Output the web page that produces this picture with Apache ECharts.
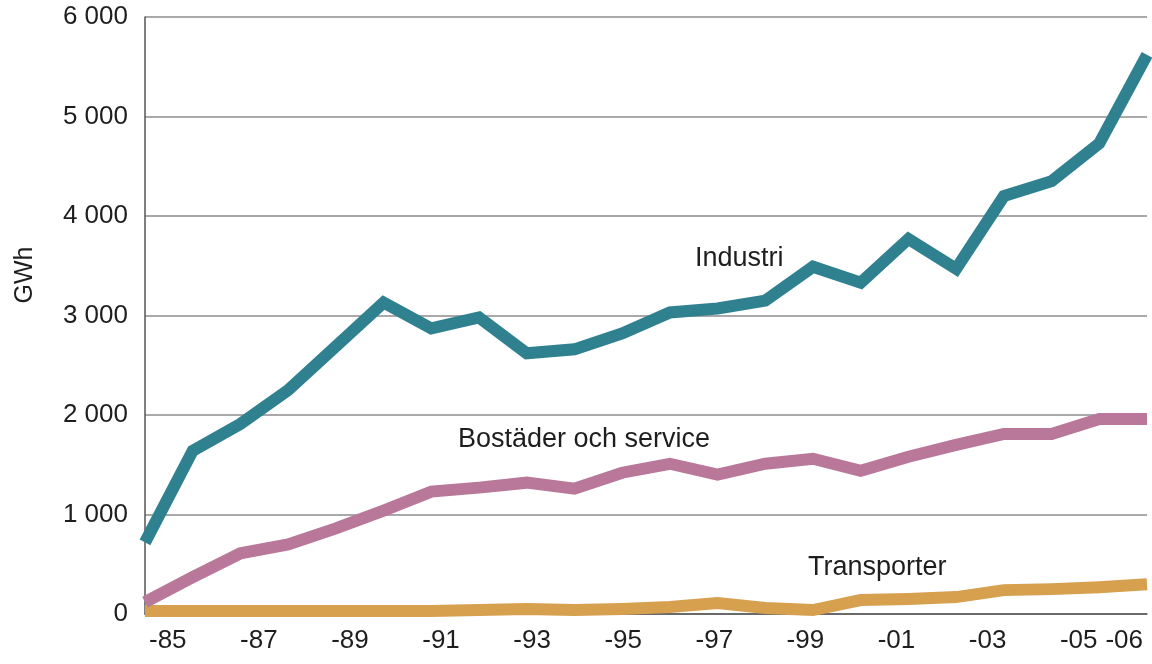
<!DOCTYPE html>
<html>
<head>
<meta charset="utf-8">
<script src="https://cdn.jsdelivr.net/npm/echarts@6/dist/echarts.min.js"></script>
<style>
  html, body { margin: 0; padding: 0; background: #fff; }
  #main { width: 1152px; height: 664px; }
</style>
</head>
<body>
<div id="main"></div>
<script>
// elanvändning per sektor, GWh 1985-2006
var years = ['-85', '-86', '-87', '-88', '-89', '-90', '-91', '-92', '-93', '-94', '-95',
             '-96', '-97', '-98', '-99', '-00', '-01', '-02', '-03', '-04', '-05', '-06'];
var industri = [720, 1640, 1910, 2250, 2690, 3130, 2870, 2980, 2620, 2660, 2820,
                3030, 3070, 3150, 3490, 3330, 3770, 3470, 4200, 4350, 4730, 5620];
var bostader = [120, 370, 610, 700, 860, 1040, 1230, 1270, 1320, 1260, 1420,
                1510, 1400, 1510, 1560, 1440, 1580, 1700, 1810, 1810, 1960, 1960];
var transporter = [30, 30, 30, 30, 30, 30, 30, 40, 50, 40, 50,
                   70, 110, 60, 40, 140, 150, 170, 240, 250, 270, 300];
var yTicks = [0, 1000, 2000, 3000, 4000, 5000, 6000];

var chart = echarts.init(document.getElementById('main'));
var font = 'Liberation Sans, Arial, Helvetica, sans-serif';

var option = {
    backgroundColor: '#fff',
    animation: false,
    grid: { left: 145, right: 5, top: 17, bottom: 50 },
    xAxis: [
        {
            // axis with ticks between years, labels centred
            type: 'category',
            data: years,
            boundaryGap: true,
            axisLine: { lineStyle: { color: '#555', width: 1.5 } },
            axisTick: { interval: 0, length: 14, lineStyle: { color: '#555', width: 1.5 } },
            axisLabel: {
                interval: function (i) { return i % 2 === 0 || i === years.length - 1; },
                color: '#1e1e1e', fontSize: 26, fontFamily: font, margin: 14
            },
            splitLine: { show: false }
        },
        {
            // hidden axis the lines are drawn on, edge to edge
            type: 'category',
            data: years,
            boundaryGap: false,
            show: false
        }
    ],
    yAxis: {
        type: 'value',
        min: yTicks[0],
        max: yTicks[yTicks.length - 1],
        interval: 1000,
        axisLine: { show: true, lineStyle: { color: '#555', width: 1.5 } },
        axisTick: { show: false },
        axisLabel: {
            color: '#1e1e1e', fontSize: 26, fontFamily: font, margin: 17,
            formatter: function (v) { return String(v).replace(/\B(?=(\d{3})+(?!\d))/g, ' '); }
        },
        splitLine: { lineStyle: { color: '#8c8c8c', width: 1.5 } }
    },
    series: [
        {
            name: 'Transporter', type: 'line', xAxisIndex: 1, data: transporter,
            symbol: 'none', lineStyle: { color: '#d6a04f', width: 12, join: 'miter' }
        },
        {
            name: 'Bostäder och service', type: 'line', xAxisIndex: 1, data: bostader,
            symbol: 'none', lineStyle: { color: '#b97899', width: 12, join: 'miter' }
        },
        {
            name: 'Industri', type: 'line', xAxisIndex: 1, data: industri,
            symbol: 'none', lineStyle: { color: '#2f8190', width: 12, join: 'miter' }
        }
    ],
    graphic: [
        { type: 'text', x: 25, y: 275, rotation: Math.PI / 2,
          style: { text: 'GWh', fill: '#1e1e1e', font: '25px ' + font, align: 'center', verticalAlign: 'middle' } },
        { type: 'text', left: 695, top: 245, style: { text: 'Industri', fill: '#1e1e1e', font: '27px ' + font } },
        { type: 'text', left: 458, top: 426, style: { text: 'Bostäder och service', fill: '#1e1e1e', font: '27px ' + font } },
        { type: 'text', left: 808, top: 554, style: { text: 'Transporter', fill: '#1e1e1e', font: '27px ' + font } }
    ]
};
chart.setOption(option);
</script>
</body>
</html>
